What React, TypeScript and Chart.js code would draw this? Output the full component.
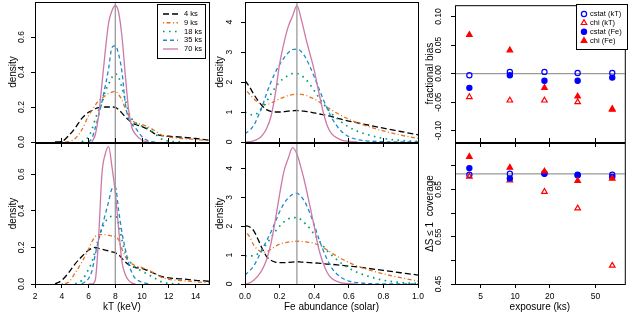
import React, { useEffect, useRef } from 'react';
import { Chart, registerables } from 'chart.js';
import { drawPoint } from 'chart.js/helpers';

Chart.register(...registerables);

const FONT = '"Liberation Sans", Arial, Helvetica, sans-serif';
Chart.defaults.font.family = FONT;

// ---------------- data ----------------
const SERIES_LABELS = ['4 ks', '9 ks', '18 ks', '35 ks', '70 ks'];

const KT_GRID = [3.5, 4, 4.5, 5, 5.5, 6, 6.25, 6.5, 6.75, 7, 7.25, 7.5, 7.75, 8, 8.25, 8.5, 8.75, 9, 9.25, 9.5, 10, 10.5, 11, 11.5, 12, 13, 14, 15];

// kT posterior densities, top panel
const KT_TOP_4 = [0, 0.003, 0.035, 0.08, 0.135, 0.17, 0.18, 0.19, 0.196, 0.199, 0.2, 0.2, 0.2, 0.198, 0.185, 0.165, 0.143, 0.125, 0.11, 0.1, 0.088, 0.07, 0.045, 0.036, 0.033, 0.027, 0.02, 0.011];
const KT_TOP_9 = [null, 0, 0.002, 0.02, 0.07, 0.15, 0.18, 0.21, 0.235, 0.25, 0.265, 0.278, 0.285, 0.29, 0.27, 0.24, 0.19, 0.15, 0.125, 0.11, 0.1, 0.085, 0.062, 0.038, 0.028, 0.02, 0.014, 0.008];
const KT_TOP_18 = [null, null, null, null, 0, 0.03, 0.07, 0.13, 0.18, 0.22, 0.29, 0.33, 0.37, 0.39, 0.37, 0.31, 0.24, 0.17, 0.13, 0.11, 0.09, 0.075, 0.045, 0.015, 0.005, 0, null, null];
const KT_TOP_35 = [null, null, null, null, null, 0, 0.02, 0.08, 0.15, 0.23, 0.32, 0.42, 0.54, 0.55, 0.5, 0.4, 0.22, 0.13, 0.1, 0.08, 0.03, 0.005, 0, null, null, null, null, null];
const KT_TOP_70 = [null, null, null, null, null, null, 0, 0.04, 0.15, 0.33, 0.52, 0.68, 0.75, 0.78, 0.74, 0.6, 0.38, 0.18, 0.08, 0.045, 0.01, 0, null, null, null, null, null, null];

// kT posterior densities, bottom panel
const KT_BOT_4 = [0, 0.02, 0.06, 0.11, 0.15, 0.185, 0.195, 0.2, 0.195, 0.19, 0.185, 0.18, 0.175, 0.17, 0.16, 0.14, 0.12, 0.105, 0.095, 0.09, 0.085, 0.07, 0.055, 0.04, 0.033, 0.028, 0.02, 0.015];
const KT_BOT_9 = [null, 0, 0.01, 0.06, 0.12, 0.19, 0.23, 0.26, 0.27, 0.27, 0.27, 0.265, 0.262, 0.26, 0.24, 0.19, 0.15, 0.12, 0.11, 0.1, 0.09, 0.075, 0.055, 0.035, 0.025, 0.018, 0.012, 0.006];
const KT_BOT_18 = [null, null, null, 0, 0.02, 0.08, 0.12, 0.18, 0.25, 0.3, 0.34, 0.36, 0.37, 0.37, 0.33, 0.24, 0.17, 0.13, 0.11, 0.09, 0.07, 0.05, 0.03, 0.01, 0.003, 0, null, null];
const KT_BOT_35 = [null, null, null, null, 0, 0.03, 0.07, 0.16, 0.24, 0.31, 0.38, 0.45, 0.52, 0.53, 0.4, 0.28, 0.19, 0.11, 0.06, 0.03, 0.01, 0, null, null, null, null, null, null];
const KT_BOT_70 = [null, null, null, null, null, 0, 0, 0.02, 0.25, 0.6, 0.71, 0.75, 0.64, 0.5, 0.3, 0.12, 0.05, 0.02, 0.005, 0, null, null, null, null, null, null, null, null];

const FE_GRID = [0, 0.025, 0.05, 0.075, 0.1, 0.125, 0.15, 0.175, 0.2, 0.225, 0.25, 0.275, 0.3, 0.325, 0.35, 0.375, 0.4, 0.425, 0.45, 0.475, 0.5, 0.55, 0.6, 0.65, 0.7, 0.8, 0.9, 1.0];

const FE_TOP_4 = [2.05, 1.85, 1.6, 1.38, 1.2, 1.08, 1.02, 1.0, 1.0, 1.01, 1.03, 1.04, 1.05, 1.04, 1.02, 1.0, 0.97, 0.94, 0.91, 0.88, 0.85, 0.77, 0.7, 0.64, 0.58, 0.46, 0.35, 0.24];
const FE_TOP_9 = [1.78, 1.6, 1.45, 1.32, 1.25, 1.25, 1.3, 1.37, 1.44, 1.5, 1.55, 1.58, 1.6, 1.59, 1.56, 1.5, 1.44, 1.35, 1.26, 1.16, 1.07, 0.9, 0.76, 0.64, 0.54, 0.37, 0.23, 0.12];
const FE_TOP_18 = [1.0, 0.93, 0.9, 0.98, 1.15, 1.35, 1.6, 1.82, 2.0, 2.13, 2.22, 2.28, 2.28, 2.22, 2.1, 1.92, 1.72, 1.5, 1.3, 1.12, 0.95, 0.7, 0.5, 0.36, 0.26, 0.12, 0.05, 0.02];
const FE_TOP_35 = [0.28, 0.38, 0.55, 0.85, 1.2, 1.62, 2.0, 2.32, 2.58, 2.8, 2.98, 3.08, 3.1, 3.02, 2.82, 2.52, 2.18, 1.82, 1.45, 1.12, 0.82, 0.4, 0.18, 0.08, 0.04, 0.01, 0, 0];
const FE_TOP_70 = [0, 0.01, 0.04, 0.1, 0.22, 0.45, 0.85, 1.6, 2.6, 3.3, 3.85, 4.2, 4.55, 4.1, 3.5, 2.95, 2.4, 1.7, 1.05, 0.55, 0.28, 0.08, 0.02, 0, null, null, null, null];

const FE_BOT_4 = [2.02, 1.98, 1.85, 1.55, 1.22, 0.95, 0.82, 0.76, 0.74, 0.74, 0.75, 0.76, 0.77, 0.76, 0.75, 0.74, 0.73, 0.72, 0.71, 0.69, 0.68, 0.65, 0.62, 0.59, 0.55, 0.47, 0.39, 0.31];
const FE_BOT_9 = [1.84, 1.65, 1.35, 1.18, 1.1, 1.12, 1.2, 1.3, 1.38, 1.42, 1.45, 1.47, 1.48, 1.47, 1.46, 1.44, 1.41, 1.35, 1.27, 1.18, 1.08, 0.9, 0.75, 0.62, 0.52, 0.35, 0.22, 0.1];
const FE_BOT_18 = [0.97, 0.97, 0.97, 1.05, 1.2, 1.4, 1.6, 1.82, 2.0, 2.15, 2.25, 2.3, 2.3, 2.22, 2.08, 1.92, 1.72, 1.52, 1.33, 1.15, 1.0, 0.75, 0.55, 0.4, 0.29, 0.13, 0.05, 0.02];
const FE_BOT_35 = [0.31, 0.45, 0.62, 0.9, 1.2, 1.5, 1.8, 2.15, 2.5, 2.78, 2.98, 3.1, 3.14, 3.02, 2.8, 2.45, 2.05, 1.6, 1.2, 0.85, 0.57, 0.25, 0.1, 0.05, 0.02, 0, 0, 0];
const FE_BOT_70 = [0, 0.03, 0.13, 0.28, 0.5, 0.85, 1.4, 2.2, 3.1, 3.9, 4.35, 4.72, 4.5, 4.0, 3.4, 2.7, 2.0, 1.25, 0.75, 0.4, 0.2, 0.05, 0.01, 0, null, null, null, null];

const KT_TRUE = 8;
const FE_TRUE = 0.3;

const EXPOSURES = [4, 9, 18, 35, 70];
const POINT_LABELS = ['cstat (kT)', 'chi (kT)', 'cstat (Fe)', 'chi (Fe)'];

const BIAS_CSTAT_KT = [-0.003, 0.003, 0.003, 0.001, 0.001];
const BIAS_CHI_KT = [-0.041, -0.047, -0.047, -0.05, -0.063];
const BIAS_CSTAT_FE = [-0.025, -0.003, -0.0125, -0.0125, -0.007];
const BIAS_CHI_FE = [0.068, 0.041, -0.025, -0.04, -0.062];
const BIAS_REF = 0;

const COV_CSTAT_KT = [0.681, 0.683, 0.684, 0.681, 0.681];
const COV_CHI_KT = [0.677, 0.669, 0.645, 0.61, 0.489];
const COV_CSTAT_FE = [0.695, 0.673, 0.683, 0.68, 0.676];
const COV_CHI_FE = [0.719, 0.696, 0.688, 0.668, 0.673];
const COV_REF = 0.6827;

const KT_TICKS = [2, 4, 6, 8, 10, 12, 14];
const FE_TICKS = [0, 0.2, 0.4, 0.6, 0.8, 1.0];
const EXP_TICKS = [5, 10, 20, 50];
const KT_DENS_TICKS = [0, 0.2, 0.4, 0.6];
const FE_DENS_TICKS = [0, 1, 2, 3, 4];
const BIAS_TICKS = [-0.1, -0.05, 0, 0.05, 0.1];
const COV_TICKS = [0.45, 0.5, 0.55, 0.6, 0.65, 0.7];
const COV_LABELLED = [0.45, 0.55, 0.65];

// ---------------- styles ----------------
const LINE_STYLE = [
  { color: '#000000', dash: [6, 3], width: 1.3 },
  { color: '#E2711D', dash: [1, 2.5, 4, 2.5], width: 1.3 },
  { color: '#009E73', dash: [1.6, 4.4], width: 1.7 },
  { color: '#1F88CF', dash: [4, 3], width: 1.3 },
  { color: '#CC79A7', dash: [], width: 1.3 },
];
const PT_STYLE = [
  { color: '#0000FF', shape: 'circle', filled: false, r: 2.6 },
  { color: '#FF0000', shape: 'triangle', filled: false, r: 3.2 },
  { color: '#0000FF', shape: 'circle', filled: true, r: 2.6 },
  { color: '#FF0000', shape: 'triangle', filled: true, r: 3.2 },
];
const REF_COLOR = '#9a9a9a';

// ---------------- plugins ----------------
const rText = {
  id: 'rtext',
  afterDraw(chart: any, _a: any, o: any) {
    const { ctx, chartArea: ca } = chart;
    ctx.save();
    ctx.strokeStyle = '#000';
    ctx.lineWidth = 1;
    ctx.setLineDash([]);
    ctx.strokeRect(ca.left + 0.5, ca.top + 0.5, ca.right - ca.left, ca.bottom - ca.top);
    ctx.fillStyle = '#000';
    ctx.textAlign = 'center';
    ctx.textBaseline = 'middle';
    const ys = chart.scales.y;
    ctx.font = `8.5px ${FONT}`;
    ys.ticks.forEach((t: any) => {
      if (!t.label) return;
      const py = ys.getPixelForValue(t.value);
      ctx.save();
      ctx.translate(ca.left - o.yTickOff, py);
      ctx.rotate(-Math.PI / 2);
      ctx.fillText(String(t.label), 0, 0);
      ctx.restore();
    });
    ctx.font = `10px ${FONT}`;
    if (o.ylab) {
      ctx.save();
      ctx.translate(ca.left - o.yLabOff, (ca.top + ca.bottom) / 2);
      ctx.rotate(-Math.PI / 2);
      ctx.fillText(o.ylab, 0, 0);
      ctx.restore();
    }
    if (o.xlab) {
      ctx.fillText(o.xlab, (ca.left + ca.right) / 2, ca.bottom + o.xLabOff);
    }
    ctx.restore();
  },
};

const rLegend = {
  id: 'rlegend',
  afterDraw(chart: any, _a: any, o: any) {
    if (!o || !o.box) return;
    const ctx = chart.ctx;
    const [x0, y0, x1, y1] = o.box;
    ctx.save();
    ctx.fillStyle = '#fff';
    ctx.fillRect(x0, y0, x1 - x0, y1 - y0);
    ctx.strokeStyle = '#000';
    ctx.lineWidth = 1;
    ctx.strokeRect(x0 + 0.5, y0 + 0.5, x1 - x0, y1 - y0);
    const items = chart.data.datasets.filter((d: any) => d.label);
    items.forEach((d: any, i: number) => {
      const y = o.rowY + i * o.rowStep;
      if (o.kind === 'line') {
        ctx.strokeStyle = d.borderColor;
        ctx.lineWidth = d.borderWidth;
        ctx.setLineDash(d.borderDash || []);
        ctx.beginPath();
        ctx.moveTo(o.sx1, y);
        ctx.lineTo(o.sx2, y);
        ctx.stroke();
        ctx.setLineDash([]);
      } else {
        ctx.strokeStyle = d.borderColor;
        ctx.fillStyle = d.backgroundColor;
        ctx.lineWidth = d.pointBorderWidth;
        drawPoint(ctx, { pointStyle: d.pointStyle, radius: d.pointRadius, rotation: 0, borderWidth: d.pointBorderWidth } as any, o.sx1, y);
      }
      ctx.fillStyle = '#000';
      ctx.font = `7.5px ${FONT}`;
      ctx.textAlign = 'left';
      ctx.textBaseline = 'middle';
      ctx.fillText(d.label, o.tx, y);
    });
    ctx.restore();
  },
};

// ---------------- helpers ----------------
function axis(o: {
  pos: 'left' | 'bottom' | 'top';
  min: number;
  max: number;
  ticks: number[];
  fmt: (v: number) => string;
  size: number;
  tickLen: number;
  labels?: boolean;
  log?: boolean;
}) {
  return {
    type: o.log ? 'logarithmic' : 'linear',
    position: o.pos,
    axis: o.pos === 'left' ? 'y' : 'x',
    min: o.min,
    max: o.max,
    afterBuildTicks: (s: any) => {
      s.ticks = o.ticks.map((v) => ({ value: v }));
    },
    afterFit: (s: any) => {
      if (o.pos === 'left') s.width = o.size;
      else s.height = o.size;
      s.paddingLeft = 0;
      s.paddingRight = 0;
      s.paddingTop = 0;
      s.paddingBottom = 0;
    },
    ticks: {
      display: !!o.labels,
      autoSkip: false,
      maxRotation: 0,
      minRotation: 0,
      padding: 3.6,
      color: '#000',
      font: { family: FONT, size: 8.5 },
      callback: (v: any) => o.fmt(Number(v)),
    },
    grid: { display: true, drawOnChartArea: false, drawTicks: true, tickLength: o.tickLen, color: '#000', lineWidth: 1 },
    border: { display: false },
  };
}

function densityDatasets(grid: number[], series: (number | null)[][], refX: number) {
  const ds: any[] = series.map((vals, i) => ({
    label: SERIES_LABELS[i],
    data: grid.map((x, j) => ({ x, y: vals[j] })),
    borderColor: LINE_STYLE[i].color,
    borderDash: LINE_STYLE[i].dash,
    borderWidth: LINE_STYLE[i].width,
    pointRadius: 0,
    fill: false,
    spanGaps: false,
    cubicInterpolationMode: 'monotone',
    order: 10 - i,
  }));
  ds.push({
    data: [{ x: refX, y: -100 }, { x: refX, y: 100 }],
    borderColor: REF_COLOR,
    borderWidth: 1.3,
    pointRadius: 0,
    tension: 0,
    order: 0,
  });
  return ds;
}

function pointDatasets(series: number[][], refY: number) {
  const ds: any[] = [];
  series.forEach((vals, i) => {
    const st = PT_STYLE[i];
    ds.push({
      type: 'scatter',
      label: POINT_LABELS[i],
      data: EXPOSURES.map((x, j) => ({ x, y: vals[j] })),
      borderColor: st.color,
      backgroundColor: st.filled ? st.color : 'rgba(0,0,0,0)',
      pointStyle: st.shape,
      pointRadius: st.r,
      pointBorderWidth: 1.2,
      showLine: false,
      order: 5 - i,
    });
  });
  ds.push({
    type: 'line',
    data: [{ x: 1, y: refY }, { x: 1000, y: refY }],
    borderColor: REF_COLOR,
    borderWidth: 1.3,
    pointRadius: 0,
    order: 20,
  });
  return ds;
}

const f1 = (v: number) => v.toFixed(1);
const fInt = (v: number) => String(Math.round(v));
const f2 = (v: number) => v.toFixed(2);
const fCov = (v: number) => (COV_LABELLED.some((c) => Math.abs(c - v) < 1e-9) ? v.toFixed(2) : '');
const fExp = (v: number) => String(v);

function baseOptions(padding: any, scales: any, text: any, legend?: any) {
  return {
    responsive: false,
    animation: false,
    devicePixelRatio: 1,
    events: [],
    layout: { padding },
    scales,
    plugins: {
      legend: { display: false },
      tooltip: { enabled: false },
      rtext: text,
      rlegend: legend || {},
    },
  };
}

// ---------------- panel configs ----------------
const panels = [
  {
    left: 0, top: 0, w: 225, h: 150,
    config: () => ({
      type: 'line',
      data: { datasets: densityDatasets(KT_GRID, [KT_TOP_4, KT_TOP_9, KT_TOP_18, KT_TOP_35, KT_TOP_70], KT_TRUE) },
      options: baseOptions(
        { left: 0, top: 2, right: 16, bottom: 0 },
        {
          x: axis({ pos: 'bottom', min: 2, max: 15, ticks: KT_TICKS, fmt: fInt, size: 8, tickLen: 5 }),
          y: axis({ pos: 'left', min: 0, max: 0.8, ticks: KT_DENS_TICKS, fmt: f1, size: 35, tickLen: 4 }),
        },
        { ylab: 'density', yTickOff: 13.5, yLabOff: 22 },
        { kind: 'line', box: [157, 4, 205, 58], rowY: 14, rowStep: 8.75, sx1: 163, sx2: 178, tx: 184 }
      ),
      plugins: [rText, rLegend],
    }),
  },
  {
    left: 0, top: 130, w: 225, h: 185,
    config: () => ({
      type: 'line',
      data: { datasets: densityDatasets(KT_GRID, [KT_BOT_4, KT_BOT_9, KT_BOT_18, KT_BOT_35, KT_BOT_70], KT_TRUE) },
      options: baseOptions(
        { left: 0, top: 8, right: 16, bottom: 0 },
        {
          x: axis({ pos: 'bottom', min: 2, max: 15, ticks: KT_TICKS, fmt: fInt, size: 31, tickLen: 4, labels: true }),
          x2: axis({ pos: 'top', min: 2, max: 15, ticks: KT_TICKS, fmt: fInt, size: 5, tickLen: 5 }),
          y: axis({ pos: 'left', min: 0, max: 0.77, ticks: KT_DENS_TICKS, fmt: f1, size: 35, tickLen: 4 }),
        },
        { ylab: 'density', yTickOff: 13.5, yLabOff: 22, xlab: 'kT (keV)', xLabOff: 23 }
      ),
      plugins: [rText, rLegend],
    }),
  },
  {
    left: 210, top: 0, w: 225, h: 150,
    config: () => ({
      type: 'line',
      data: { datasets: densityDatasets(FE_GRID, [FE_TOP_4, FE_TOP_9, FE_TOP_18, FE_TOP_35, FE_TOP_70], FE_TRUE) },
      options: baseOptions(
        { left: 0, top: 2, right: 17, bottom: 0 },
        {
          x: axis({ pos: 'bottom', min: 0, max: 1, ticks: FE_TICKS, fmt: f1, size: 8, tickLen: 5 }),
          y: axis({ pos: 'left', min: 0, max: 4.67, ticks: FE_DENS_TICKS, fmt: fInt, size: 35, tickLen: 4 }),
        },
        { ylab: 'density', yTickOff: 15, yLabOff: 25 }
      ),
      plugins: [rText, rLegend],
    }),
  },
  {
    left: 210, top: 130, w: 225, h: 185,
    config: () => ({
      type: 'line',
      data: { datasets: densityDatasets(FE_GRID, [FE_BOT_4, FE_BOT_9, FE_BOT_18, FE_BOT_35, FE_BOT_70], FE_TRUE) },
      options: baseOptions(
        { left: 0, top: 8, right: 17, bottom: 0 },
        {
          x: axis({ pos: 'bottom', min: 0, max: 1, ticks: FE_TICKS, fmt: f1, size: 31, tickLen: 4, labels: true }),
          x2: axis({ pos: 'top', min: 0, max: 1, ticks: FE_TICKS, fmt: f1, size: 5, tickLen: 5 }),
          y: axis({ pos: 'left', min: 0, max: 4.88, ticks: FE_DENS_TICKS, fmt: fInt, size: 35, tickLen: 4 }),
        },
        { ylab: 'density', yTickOff: 15, yLabOff: 25, xlab: 'Fe abundance (solar)', xLabOff: 23 }
      ),
      plugins: [rText, rLegend],
    }),
  },
  {
    left: 420, top: 0, w: 210, h: 150,
    config: () => ({
      type: 'scatter',
      data: { datasets: pointDatasets([BIAS_CSTAT_KT, BIAS_CHI_KT, BIAS_CSTAT_FE, BIAS_CHI_FE], BIAS_REF) },
      options: baseOptions(
        { left: 0, top: 2, right: 2, bottom: 0 },
        {
          x: axis({ pos: 'bottom', min: 3, max: 90, ticks: EXP_TICKS, fmt: fExp, size: 8, tickLen: 5, log: true }),
          y: axis({ pos: 'left', min: -0.12, max: 0.12, ticks: BIAS_TICKS, fmt: f2, size: 35, tickLen: 4 }),
        },
        { ylab: 'fractional bias', yTickOff: 16.5, yLabOff: 25 },
        { kind: 'point', box: [156, 4, 207, 49], rowY: 14, rowStep: 8.9, sx1: 164, sx2: 164, tx: 170 }
      ),
      plugins: [rText, rLegend],
    }),
  },
  {
    left: 420, top: 130, w: 210, h: 185,
    config: () => ({
      type: 'scatter',
      data: { datasets: pointDatasets([COV_CSTAT_KT, COV_CHI_KT, COV_CSTAT_FE, COV_CHI_FE], COV_REF) },
      options: baseOptions(
        { left: 0, top: 8, right: 2, bottom: 0 },
        {
          x: axis({ pos: 'bottom', min: 3, max: 90, ticks: EXP_TICKS, fmt: fExp, size: 31, tickLen: 4, labels: true, log: true }),
          x2: axis({ pos: 'top', min: 3, max: 90, ticks: EXP_TICKS, fmt: fExp, size: 5, tickLen: 5, log: true }),
          y: axis({ pos: 'left', min: 0.45, max: 0.748, ticks: COV_TICKS, fmt: fCov, size: 35, tickLen: 4 }),
        },
        { ylab: '\u0394S \u2264 1  coverage', yTickOff: 16.5, yLabOff: 25, xlab: 'exposure (ks)', xLabOff: 23 }
      ),
      plugins: [rText, rLegend],
    }),
  },
];

function Panel({ left, top, w, h, config }: any) {
  const ref = useRef<HTMLCanvasElement>(null);
  useEffect(() => {
    const chart = new Chart(ref.current as HTMLCanvasElement, config());
    return () => chart.destroy();
  }, []);
  return (
    <canvas
      ref={ref}
      width={w}
      height={h}
      style={{ position: 'absolute', left, top, width: w, height: h, display: 'block' }}
    />
  );
}

export default function App() {
  return (
    <div style={{ position: 'absolute', left: 0, top: 0, width: 630, height: 315, background: '#fff', overflow: 'hidden' }}>
      {panels.map((p, i) => (
        <Panel key={i} {...p} />
      ))}
    </div>
  );
}
